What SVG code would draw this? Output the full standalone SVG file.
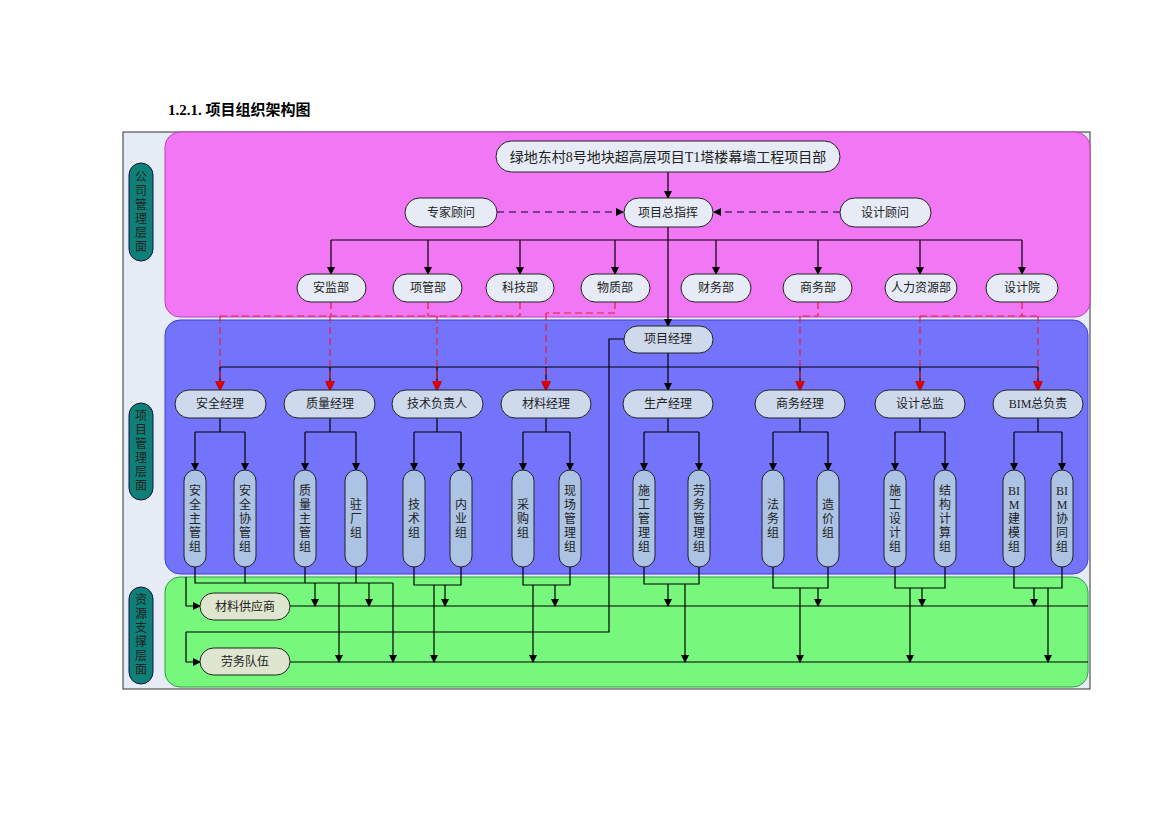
<svg xmlns="http://www.w3.org/2000/svg" width="1169" height="826" viewBox="0 0 1169 826">
<defs>
<marker id="a" markerWidth="8" markerHeight="8" refX="7" refY="4" orient="auto" markerUnits="userSpaceOnUse"><path d="M0,0 L8,4 L0,8 Z" fill="#000"/></marker>
<marker id="r" markerWidth="10" markerHeight="10" refX="9" refY="5" orient="auto" markerUnits="userSpaceOnUse"><path d="M0,0 L10,5 L0,10 Z" fill="#e00000"/></marker>
<style>
text{font-family:"Liberation Serif","Noto Sans CJK SC",serif;font-size:12px;fill:#222;text-anchor:middle}
.n{fill:#e6ebf5;stroke:#222;stroke-width:1}
.m{fill:#cfd9ec;stroke:#222;stroke-width:1}
.p{fill:#adc3e4;stroke:#222;stroke-width:1}
.g{fill:#dfe6cf;stroke:#222;stroke-width:1}
.s{fill:#0e8078;stroke:#114;stroke-width:1}
.l{fill:none;stroke:#000;stroke-width:1.2}
.la{fill:none;stroke:#000;stroke-width:1.2;marker-end:url(#a)}
.d{fill:none;stroke:#5a2a6a;stroke-width:1.5;stroke-dasharray:7,5;marker-end:url(#a)}
.rd{fill:none;stroke:#e8203a;stroke-width:1.2;stroke-dasharray:7,4}
.rda{fill:none;stroke:#e8203a;stroke-width:1.2;stroke-dasharray:7,4;marker-end:url(#r)}
</style>
</defs>
<rect width="1169" height="826" fill="#fff"/>
<text x="168" y="115" style="font-size:15px;font-weight:bold;text-anchor:start;fill:#000">1.2.1.    项目组织架构图</text>
<rect x="123" y="132" width="967" height="557" fill="#e6ecf6" stroke="#333"/>
<rect x="165" y="132" width="925" height="185" rx="15" fill="#f277f5" stroke="#c040c0"/>
<rect x="165" y="320" width="923" height="254" rx="15" fill="#7373fb" stroke="#4040d0"/>
<rect x="165" y="577" width="923" height="110" rx="15" fill="#77f77b" stroke="#30a040"/>
<g id="side">
<rect class="s" x="129" y="163" width="24" height="98" rx="12"/>
<text x="141" y="181">公</text><text x="141" y="195">司</text><text x="141" y="209">管</text><text x="141" y="223">理</text><text x="141" y="237">层</text><text x="141" y="251">面</text>
<rect class="s" x="129" y="403" width="24" height="97" rx="12"/>
<text x="141" y="420">项</text><text x="141" y="434">目</text><text x="141" y="448">管</text><text x="141" y="462">理</text><text x="141" y="476">层</text><text x="141" y="490">面</text>
<rect class="s" x="129" y="587" width="24" height="97" rx="12"/>
<text x="141" y="604">资</text><text x="141" y="618">源</text><text x="141" y="632">支</text><text x="141" y="646">撑</text><text x="141" y="660">层</text><text x="141" y="674">面</text>
</g>
<g id="connectors">
<path class="la" d="M668,172 V198"/>
<path class="d" d="M497,212 H623"/>
<path class="d" d="M840,212 H714"/>
<path class="l" d="M331,240 H1022"/>
<path class="la" d="M668,227 V326"/>
<path class="la" d="M331,240 V274"/><path class="la" d="M428,240 V274"/><path class="la" d="M520,240 V274"/><path class="la" d="M615,240 V274"/><path class="la" d="M716,240 V274"/><path class="la" d="M818,240 V274"/><path class="la" d="M920,240 V274"/><path class="la" d="M1022,240 V274"/>
<path class="l" d="M220,367 H1038"/>
<path class="l" d="M668,353 V367"/>
<path class="la" d="M220,367 V390"/><path class="la" d="M330,367 V390"/><path class="la" d="M437,367 V390"/><path class="la" d="M546,367 V390"/><path class="la" d="M668,367 V390"/><path class="la" d="M800,367 V390"/><path class="la" d="M920,367 V390"/><path class="la" d="M1038,367 V390"/>
<path class="rd" d="M331,302 V316 M428,302 V316 M520,302 V316 M220,316 H520 M615,302 V313 H546 M818,302 V316 H800 M1022,302 V316 M920,316 H1038"/>
<path class="rda" d="M220,316 V390"/><path class="rda" d="M330,316 V390"/><path class="rda" d="M437,316 V390"/><path class="rda" d="M546,313 V390"/><path class="rda" d="M800,316 V390"/><path class="rda" d="M920,316 V390"/><path class="rda" d="M1038,316 V390"/>
<path class="l" d="M624,339 H609 V632 H186"/>
<path class="la" d="M186,632 V662 H200"/>
<path class="la" d="M186,577 V606 H200"/>
<path class="l" d="M220,418 V432 M195,432 H245 M330,418 V432 M305,432 H356 M437,418 V432 M414,432 H461 M546,418 V432 M523,432 H570 M668,418 V432 M644,432 H699 M800,418 V432 M773,432 H828 M920,418 V432 M895,432 H945 M1038,418 V432 M1014,432 H1062"/>
<path class="la" d="M195,432 V470"/><path class="la" d="M245,432 V470"/><path class="la" d="M305,432 V470"/><path class="la" d="M356,432 V470"/><path class="la" d="M414,432 V470"/><path class="la" d="M461,432 V470"/><path class="la" d="M523,432 V470"/><path class="la" d="M570,432 V470"/><path class="la" d="M644,432 V470"/><path class="la" d="M699,432 V470"/><path class="la" d="M773,432 V470"/><path class="la" d="M828,432 V470"/><path class="la" d="M895,432 V470"/><path class="la" d="M945,432 V470"/><path class="la" d="M1014,432 V470"/><path class="la" d="M1062,432 V470"/>
<path class="l" d="M195,567 V583 H393 M245,567 V583 M305,567 V583 M356,567 V583 M414,567 V585 H461 V567 M523,567 V585 H570 V567 M644,567 V584 H699 V567 M773,567 V588 H828 V567 M895,567 V588 H945 V567 M1014,567 V588 H1062 V567"/>
<path class="l" d="M290,606 H1088 M290,662 H1088"/>
<path class="la" d="M315,583 V606"/><path class="la" d="M369,583 V606"/><path class="la" d="M445,585 V606"/><path class="la" d="M555,585 V606"/><path class="la" d="M668,584 V606"/><path class="la" d="M818,588 V606"/><path class="la" d="M922,588 V606"/><path class="la" d="M1034,588 V606"/>
<path class="la" d="M339,583 V662"/><path class="la" d="M393,583 V662"/><path class="la" d="M434,585 V662"/><path class="la" d="M533,585 V662"/><path class="la" d="M685,584 V662"/><path class="la" d="M800,588 V662"/><path class="la" d="M910,588 V662"/><path class="la" d="M1048,588 V662"/>
</g>
<g id="top"><rect class="n" x="496" y="141" width="344" height="31" rx="15.5"/><text x="668" y="162" style="font-size:14px">绿地东村8号地块超高层项目T1塔楼幕墙工程项目部</text></g>
<g id="zjgw"><rect class="n" x="405" y="198" width="92" height="29" rx="14.5"/><text x="451" y="217">专家顾问</text></g>
<g id="zzh"><rect class="n" x="624" y="198" width="89" height="29" rx="14.5"/><text x="668" y="217">项目总指挥</text></g>
<g id="sjgw"><rect class="n" x="840" y="198" width="91" height="29" rx="14.5"/><text x="885" y="217">设计顾问</text></g>
<g id="d1"><rect class="n" x="297" y="274" width="69" height="28" rx="14"/><text x="331" y="292">安监部</text></g>
<g id="d2"><rect class="n" x="393" y="274" width="69" height="28" rx="14"/><text x="428" y="292">项管部</text></g>
<g id="d3"><rect class="n" x="486" y="274" width="68" height="28" rx="14"/><text x="520" y="292">科技部</text></g>
<g id="d4"><rect class="n" x="581" y="274" width="69" height="28" rx="14"/><text x="615" y="292">物质部</text></g>
<g id="d5"><rect class="n" x="681" y="274" width="70" height="28" rx="14"/><text x="716" y="292">财务部</text></g>
<g id="d6"><rect class="n" x="783" y="274" width="69" height="28" rx="14"/><text x="818" y="292">商务部</text></g>
<g id="d7"><rect class="n" x="885" y="274" width="72" height="28" rx="14"/><text x="921" y="292">人力资源部</text></g>
<g id="d8"><rect class="n" x="986" y="274" width="72" height="28" rx="14"/><text x="1022" y="292">设计院</text></g>
<g id="pm"><rect class="m" x="624" y="326" width="89" height="27" rx="13.5"/><text x="668" y="343">项目经理</text></g>
<g id="m1"><rect class="m" x="175" y="390" width="91" height="28" rx="14"/><text x="220" y="408">安全经理</text></g>
<g id="m2"><rect class="m" x="284" y="390" width="91" height="28" rx="14"/><text x="330" y="408">质量经理</text></g>
<g id="m3"><rect class="m" x="392" y="390" width="91" height="28" rx="14"/><text x="437" y="408">技术负责人</text></g>
<g id="m4"><rect class="m" x="501" y="390" width="90" height="28" rx="14"/><text x="546" y="408">材料经理</text></g>
<g id="m5"><rect class="m" x="623" y="390" width="90" height="28" rx="14"/><text x="668" y="408">生产经理</text></g>
<g id="m6"><rect class="m" x="755" y="390" width="90" height="28" rx="14"/><text x="800" y="408">商务经理</text></g>
<g id="m7"><rect class="m" x="875" y="390" width="90" height="28" rx="14"/><text x="920" y="408">设计总监</text></g>
<g id="m8"><rect class="m" x="993" y="390" width="90" height="28" rx="14"/><text x="1038" y="408">BIM总负责</text></g>
<g id="g1"><rect class="p" x="184" y="470" width="22" height="97" rx="11"/><text x="195" y="495">安</text><text x="195" y="509">全</text><text x="195" y="523">主</text><text x="195" y="537">管</text><text x="195" y="551">组</text></g>
<g id="g2"><rect class="p" x="234" y="470" width="22" height="97" rx="11"/><text x="245" y="495">安</text><text x="245" y="509">全</text><text x="245" y="523">协</text><text x="245" y="537">管</text><text x="245" y="551">组</text></g>
<g id="g3"><rect class="p" x="294" y="470" width="22" height="97" rx="11"/><text x="305" y="495">质</text><text x="305" y="509">量</text><text x="305" y="523">主</text><text x="305" y="537">管</text><text x="305" y="551">组</text></g>
<g id="g4"><rect class="p" x="345" y="470" width="22" height="97" rx="11"/><text x="356" y="509">驻</text><text x="356" y="523">厂</text><text x="356" y="537">组</text></g>
<g id="g5"><rect class="p" x="403" y="470" width="22" height="97" rx="11"/><text x="414" y="509">技</text><text x="414" y="523">术</text><text x="414" y="537">组</text></g>
<g id="g6"><rect class="p" x="450" y="470" width="22" height="97" rx="11"/><text x="461" y="509">内</text><text x="461" y="523">业</text><text x="461" y="537">组</text></g>
<g id="g7"><rect class="p" x="512" y="470" width="22" height="97" rx="11"/><text x="523" y="509">采</text><text x="523" y="523">购</text><text x="523" y="537">组</text></g>
<g id="g8"><rect class="p" x="559" y="470" width="22" height="97" rx="11"/><text x="570" y="495">现</text><text x="570" y="509">场</text><text x="570" y="523">管</text><text x="570" y="537">理</text><text x="570" y="551">组</text></g>
<g id="g9"><rect class="p" x="633" y="470" width="22" height="97" rx="11"/><text x="644" y="495">施</text><text x="644" y="509">工</text><text x="644" y="523">管</text><text x="644" y="537">理</text><text x="644" y="551">组</text></g>
<g id="g10"><rect class="p" x="688" y="470" width="22" height="97" rx="11"/><text x="699" y="495">劳</text><text x="699" y="509">务</text><text x="699" y="523">管</text><text x="699" y="537">理</text><text x="699" y="551">组</text></g>
<g id="g11"><rect class="p" x="762" y="470" width="22" height="97" rx="11"/><text x="773" y="509">法</text><text x="773" y="523">务</text><text x="773" y="537">组</text></g>
<g id="g12"><rect class="p" x="817" y="470" width="22" height="97" rx="11"/><text x="828" y="509">造</text><text x="828" y="523">价</text><text x="828" y="537">组</text></g>
<g id="g13"><rect class="p" x="884" y="470" width="22" height="97" rx="11"/><text x="895" y="495">施</text><text x="895" y="509">工</text><text x="895" y="523">设</text><text x="895" y="537">计</text><text x="895" y="551">组</text></g>
<g id="g14"><rect class="p" x="934" y="470" width="22" height="97" rx="11"/><text x="945" y="495">结</text><text x="945" y="509">构</text><text x="945" y="523">计</text><text x="945" y="537">算</text><text x="945" y="551">组</text></g>
<g id="g15"><rect class="p" x="1003" y="470" width="22" height="97" rx="11"/><text x="1014" y="495">BI</text><text x="1014" y="509">M</text><text x="1014" y="523">建</text><text x="1014" y="537">模</text><text x="1014" y="551">组</text></g>
<g id="g16"><rect class="p" x="1051" y="470" width="22" height="97" rx="11"/><text x="1062" y="495">BI</text><text x="1062" y="509">M</text><text x="1062" y="523">协</text><text x="1062" y="537">同</text><text x="1062" y="551">组</text></g>
<g id="sup"><rect class="g" x="200" y="593" width="90" height="27" rx="13.5"/><text x="245" y="611">材料供应商</text></g>
<g id="lab"><rect class="g" x="200" y="648" width="90" height="27" rx="13.5"/><text x="245" y="666">劳务队伍</text></g>
</svg>
